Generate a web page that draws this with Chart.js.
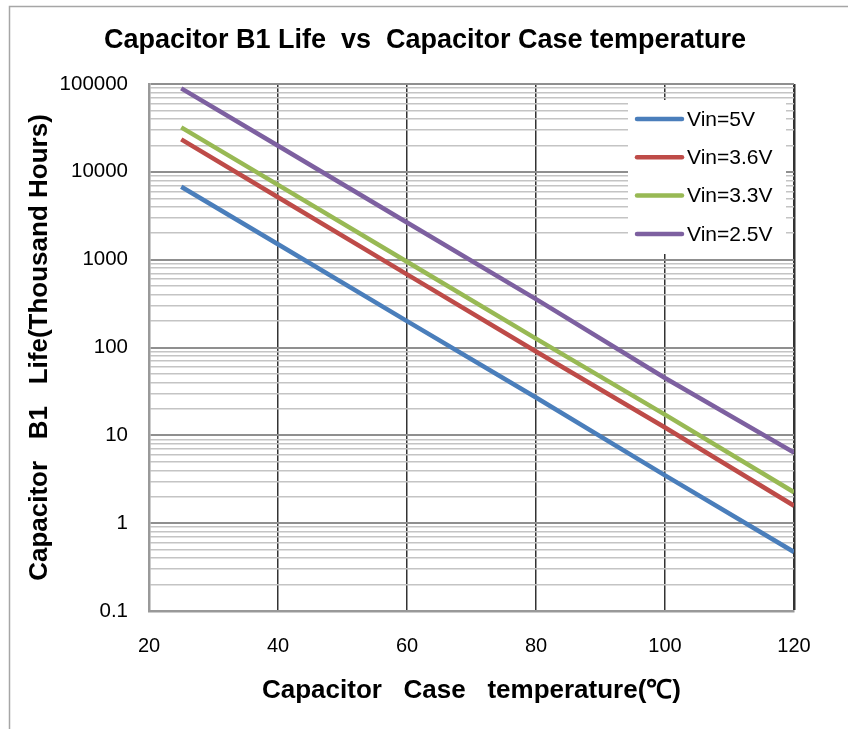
<!DOCTYPE html>
<html>
<head>
<meta charset="utf-8">
<script src="https://cdn.jsdelivr.net/npm/chart.js@4"></script>
<style>
  body { margin: 0; background: #fff; }
  canvas { display: block; }
</style>
</head>
<body>
<canvas id="life-chart" width="848" height="729"></canvas>
<script>
// Capacitor B1 life vs case temperature

const temps = [25, 40, 60, 80, 100, 120];
const life5V = [6760, 1500, 200, 27, 3.5, 0.47];
const life36V = [23400, 5140, 680, 90, 12.3, 1.58];
const life33V = [32100, 7100, 946, 126, 17.2, 2.25];
const life25V = [89300, 19800, 2650, 355, 45, 6.35];

const seriesLabels = ['Vin=5V', 'Vin=3.6V', 'Vin=3.3V', 'Vin=2.5V'];
const seriesColors = ['#4a7ebb', '#be4b48', '#98b954', '#7d60a0'];

const xTicks = [20, 40, 60, 80, 100, 120];
const yTickLabels = [0.1, 1, 10, 100, 1000, 10000, 100000];

const FONT = '"Liberation Sans", Arial, sans-serif';

// minor log grid: 1..9 in every decade
const yGridValues = [];
for (let e = -1; e < 5; e++) {
    for (let m = 1; m < 10; m++) {
        yGridValues.push(Number((m * Math.pow(10, e)).toPrecision(6)));
    }
}
yGridValues.push(100000);

function isDecade(v) {
    const l = Math.log10(v);
    return Math.abs(l - Math.round(l)) < 1e-9;
}

function toPoints(values) {
    return temps.map((t, i) => ({ x: t, y: values[i] }));
}

const frame = {
    id: 'frame',
    beforeDraw(chart) {
        const ctx = chart.ctx;
        ctx.save();
        ctx.fillStyle = '#fff';
        ctx.fillRect(0, 0, chart.width, chart.height);
        ctx.strokeStyle = '#a6a6a6';
        ctx.lineWidth = 1.5;
        ctx.beginPath();
        ctx.moveTo(9.5, chart.height);
        ctx.lineTo(9.5, 6.5);
        ctx.lineTo(chart.width, 6.5);
        ctx.stroke();
        ctx.restore();
    }
};

const boxLegend = {
    id: 'boxLegend',
    afterDraw(chart) {
        const ctx = chart.ctx;
        const left = 628, top = 100;
        ctx.save();
        ctx.fillStyle = '#fff';
        ctx.fillRect(left, top, 158, 154);
        ctx.font = '21px ' + FONT;
        ctx.textBaseline = 'middle';
        chart.data.datasets.forEach((ds, i) => {
            const y = top + 19 + i * 38.3;
            ctx.strokeStyle = ds.borderColor;
            ctx.lineWidth = 4.5;
            ctx.lineCap = 'round';
            ctx.beginPath();
            ctx.moveTo(637, y);
            ctx.lineTo(682, y);
            ctx.stroke();
            ctx.fillStyle = '#000';
            ctx.fillText(ds.label, 687, y + 1);
        });
        ctx.restore();
    }
};

const datasets = [life5V, life36V, life33V, life25V].map((vals, i) => ({
    label: seriesLabels[i],
    data: toPoints(vals),
    borderColor: seriesColors[i],
    backgroundColor: seriesColors[i],
    borderWidth: 4.5,
    pointRadius: 0,
    tension: 0,
    fill: false
}));

new Chart(document.getElementById('life-chart'), {
    type: 'line',
    data: { datasets: datasets },
    plugins: [frame, boxLegend],
    options: {
        responsive: false,
        animation: false,
        layout: { padding: { left: 56, right: 54, top: 0, bottom: 0 } },
        plugins: {
            legend: { display: false },
            tooltip: { enabled: false },
            title: {
                display: true,
                text: 'Capacitor B1 Life  vs  Capacitor Case temperature',
                color: '#000',
                font: { family: FONT, size: 27, weight: 'bold' },
                padding: { top: 24, bottom: 27.6 }
            }
        },
        scales: {
            x: {
                type: 'linear',
                min: 20,
                max: 120,
                afterFit(scale) { scale.height = 118; },
                afterBuildTicks(scale) { scale.ticks = xTicks.map(v => ({ value: v })); },
                ticks: {
                    color: '#000',
                    font: { family: FONT, size: 20 },
                    padding: 23,
                    maxRotation: 0
                },
                grid: {
                    drawTicks: false,
                    color: ctx => ctx.tick && ctx.tick.value === 20 ? 'rgba(0,0,0,0)' : '#333',
                    lineWidth: ctx => ctx.tick && ctx.tick.value === 120 ? 2.5 : 1.5
                },
                border: { color: '#999', width: 2.5 },
                title: {
                    display: true,
                    text: 'Capacitor   Case   temperature(\u2103)',
                    color: '#000',
                    font: { family: FONT, size: 26, weight: 'bold' },
                    padding: { top: 0, bottom: 23 }
                }
            },
            y: {
                type: 'logarithmic',
                min: 0.1,
                max: 100000,
                afterFit(scale) { scale.width = 93; },
                afterBuildTicks(scale) { scale.ticks = yGridValues.map(v => ({ value: v })); },
                ticks: {
                    autoSkip: false,
                    color: '#000',
                    font: { family: FONT, size: 20.5 },
                    padding: 21,
                    callback: v => yTickLabels.some(t => Math.abs(t - v) < 1e-9) ? String(v) : ''
                },
                grid: {
                    drawTicks: false,
                    color: ctx => ctx.tick && isDecade(ctx.tick.value) ? '#8f8f8f' : '#c4c4c4',
                    lineWidth: ctx => ctx.tick && isDecade(ctx.tick.value) ? 2 : 1.5
                },
                border: { color: '#999', width: 2.5 },
                title: {
                    display: true,
                    text: 'Capacitor   B1   Life(Thousand Hours)',
                    color: '#000',
                    font: { family: FONT, size: 26, weight: 'bold' },
                    padding: { top: -31.6, bottom: 0 }
                }
            }
        }
    }
});
</script>
</body>
</html>
